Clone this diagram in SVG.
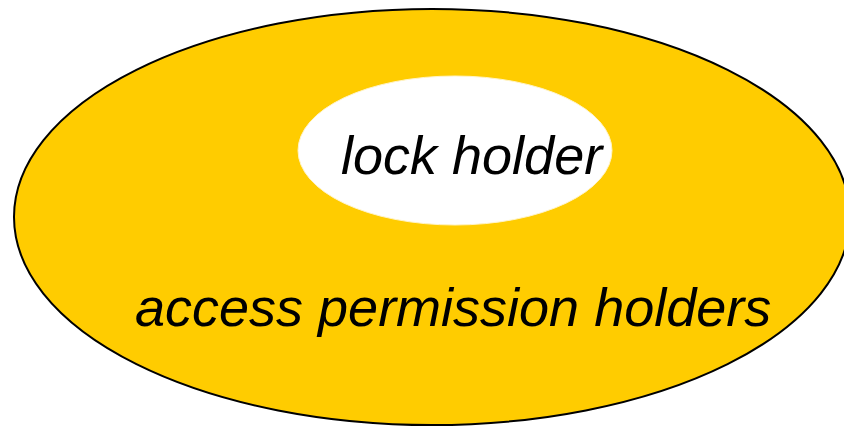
<svg xmlns="http://www.w3.org/2000/svg" width="844" height="427" viewBox="0 0 844 427">
<style>
  .lbl { font-family: "Liberation Sans", Arial, sans-serif; font-style: italic; font-size: 54px; fill: #000; }
</style>
<rect width="844" height="427" fill="#fff"/>
<g id="access-permission-holders">
  <ellipse cx="432" cy="217" rx="418" ry="208" fill="#ffcc00" stroke="#000" stroke-width="2"/>
  <text class="lbl" x="135" y="326">access permission holders</text>
</g>
<g id="lock-holder">
  <ellipse cx="455" cy="150.5" rx="157" ry="74.5" fill="#fff" stroke="#fff4c8" stroke-width="1"/>
  <text class="lbl" x="341" y="174">lock holder</text>
</g>
</svg>
